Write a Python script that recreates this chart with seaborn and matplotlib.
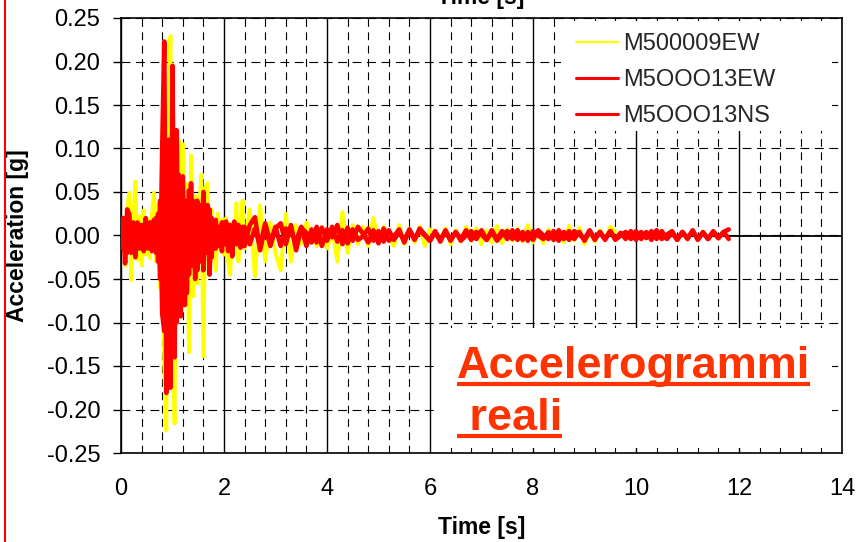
import numpy as np
import pandas as pd
import matplotlib
matplotlib.use("Agg")
import matplotlib.pyplot as plt
from matplotlib.lines import Line2D
from matplotlib.patches import Rectangle
from matplotlib.transforms import IdentityTransform
from matplotlib.ticker import MultipleLocator, FormatStrFormatter
import seaborn as sns

# ---------- data (acceleration in g) ----------
dt_early = 0.04       # s, sampling of the strong-motion part (0 - 2.4 s)
dt_late = 0.1         # s, sampling of the coda
t_late_start = 2.5

series_names = ["M500009EW", "M5OOO13EW", "M5OOO13NS"]
series_colors = ["#FFFF00", "#FF0000", "#FF0000"]

yellow_early = [
    0.000, 0.018, -0.035, 0.030, 0.049, -0.051, 0.020, 0.062, -0.028, 0.022,
    -0.034, 0.029, -0.022, 0.018, -0.026, 0.024, 0.049, -0.030, 0.035, -0.060,
    0.090, -0.150, -0.224, 0.160, 0.229, -0.120, -0.216, 0.080, 0.110, -0.090,
    0.105, -0.060, 0.060, -0.134, 0.092, -0.070, 0.045, -0.055, 0.030, 0.070,
    -0.139, 0.055, 0.060, -0.040, 0.030, -0.020, -0.040, 0.025, -0.015, 0.018,
    -0.022, 0.020, -0.030, -0.045, 0.015, -0.010, 0.037, -0.030, 0.012, 0.040,
    -0.015,
]
yellow_late = [
    0.030, -0.047, 0.035, -0.030, 0.015, -0.020, -0.040, 0.025, -0.030, 0.012,
    -0.010, 0.015, 0.002, -0.012, 0.010, -0.015, 0.008, -0.030, 0.027, -0.020,
    0.012, -0.010, 0.010, -0.012, 0.020, -0.008, 0.010, -0.002, -0.012, 0.012,
    -0.010, 0.008, -0.008, 0.010, -0.012, 0.007, 0.001, -0.006, 0.008, -0.010,
    0.006, -0.007, 0.010, -0.006, 0.008, -0.010, 0.006, -0.008, 0.011, -0.009,
    0.007, -0.006, 0.008, -0.007, 0.012, -0.008, 0.006, -0.009, 0.007, -0.006,
    0.006, -0.008, 0.011, -0.006, 0.009, -0.010, 0.005, -0.007, 0.006, -0.005,
    0.010, 0.004,
]
ew_early = [
    0.000, 0.020, -0.032, 0.030, 0.025, -0.020, 0.010, -0.025, 0.015, -0.015,
    0.012, -0.018, 0.020, -0.012, 0.015, -0.010, 0.018, -0.020, 0.025, -0.050,
    0.100, 0.223, -0.181, 0.110, -0.175, 0.195, -0.140, 0.121, -0.080, -0.093,
    0.068, -0.045, -0.066, 0.052, -0.030, 0.040, -0.050, 0.040, -0.025, 0.035,
    -0.040, 0.025, -0.020, 0.030, -0.025, 0.012, -0.015, 0.010, -0.012, 0.015,
    -0.010, 0.016, -0.018, 0.012, -0.024, 0.016, -0.010, 0.012, -0.014, 0.010,
    -0.012,
]
ew_late = [
    0.012, 0.021, -0.017, 0.010, -0.012, 0.008, 0.014, -0.010, 0.012, -0.017,
    0.009, 0.003, -0.008, 0.010, -0.012, 0.007, -0.002, 0.012, -0.010, 0.009,
    -0.006, 0.010, 0.002, -0.008, 0.006, -0.009, 0.008, -0.006, -0.001, 0.007,
    -0.008, 0.006, -0.005, 0.008, 0.001, -0.006, 0.005, -0.007, 0.006, -0.005,
    0.004, -0.006, 0.000, 0.005, -0.004, 0.006, -0.005, 0.004, -0.006, 0.001,
    0.005, -0.004, 0.006, -0.005, 0.004, -0.005, 0.006, 0.000, -0.004, 0.005,
    -0.006, 0.004, -0.005, 0.005, 0.001, -0.004, 0.006, -0.005, 0.004, -0.004,
    0.005, -0.005, 0.000, 0.004, -0.004, 0.005, -0.004, 0.004, -0.005, 0.006,
    -0.004, 0.001, 0.005, -0.005, 0.004, -0.004, 0.006, -0.005, 0.004, -0.004,
    0.005, -0.003, 0.004, -0.004,
]
ns_early = [
    0.000, -0.015, 0.018, -0.020, 0.012, -0.010, 0.015, -0.012, 0.010, -0.008,
    0.012, -0.010, 0.008, -0.015, 0.012, -0.018, 0.010, 0.020, -0.030, 0.040,
    -0.090, -0.110, 0.100, -0.160, 0.085, -0.120, 0.090, -0.100, 0.070, -0.060,
    0.045, -0.080, 0.040, -0.045, 0.060, -0.035, 0.030, -0.040, 0.025, -0.030,
    0.050, -0.020, 0.035, -0.045, 0.020, -0.015, 0.018, -0.012, 0.010, -0.018,
    0.015, -0.010, 0.012, -0.014, 0.010, -0.008, 0.012, -0.010, 0.008, -0.012,
    0.010,
]
ns_late = [
    -0.010, 0.008, -0.012, 0.014, -0.008, 0.010, -0.012, 0.008, 0.002, -0.006,
    0.010, -0.012, 0.007, -0.008, 0.009, -0.006, 0.010, -0.007, 0.006, -0.009,
    0.007, -0.005, -0.001, 0.008, -0.006, 0.005, -0.007, 0.006, -0.005, 0.004,
    -0.006, 0.007, -0.004, 0.005, 0.000, -0.006, 0.004, -0.005, 0.005, -0.006,
    0.004, -0.004, 0.006, -0.005, 0.004, 0.001, -0.005, 0.006, -0.004, 0.005,
    -0.004, 0.006, -0.005, 0.004, -0.006, 0.005, 0.000, -0.004, 0.004, -0.005,
    0.006, -0.004, 0.005, -0.004, 0.004, -0.006, 0.005, -0.003, 0.004, -0.005,
    0.005, -0.004, 0.003, -0.004, 0.005, -0.005, 0.004, -0.003, 0.005, -0.004,
    0.005, -0.004, 0.003, -0.005, 0.004, -0.003, 0.005, -0.004, 0.003, -0.004,
    0.004, -0.003, 0.004, 0.007,
]

x_ticks = [0, 2, 4, 6, 8, 10, 12, 14]
text_color = "#FF3300"


# ---------- helpers ----------
def record(name, early, late):
    t = np.concatenate([
        np.arange(len(early)) * dt_early,
        t_late_start + np.arange(len(late)) * dt_late,
    ])
    return pd.DataFrame({"time": t, "acc": early + late, "record": name})


df = pd.concat([
    record(series_names[0], yellow_early, yellow_late),
    record(series_names[1], ew_early, ew_late),
    record(series_names[2], ns_early, ns_late),
], ignore_index=True)

# ---------- style ----------
sns.set_theme(style="white")
plt.rcParams["font.family"] = ["Liberation Sans", "DejaVu Sans"]
plt.rcParams["axes.unicode_minus"] = False

W, H = 867, 542
fig = plt.figure(figsize=(W / 100, H / 100), dpi=100)
ax = fig.add_axes([121 / W, 1 - 453 / H, 721 / W, 435 / H])

# ---------- curves ----------
widths = [2.8, 3.3, 3.3]
for name, col, lw in zip(series_names, series_colors, widths):
    sns.lineplot(
        data=df[df["record"] == name], x="time", y="acc",
        color=col, linewidth=lw, label=name, ax=ax,
        estimator=None, sort=False, zorder=3,
    )

ax.axhline(0, color="black", linewidth=1.3, zorder=1.5)

# ---------- axes ----------
ax.set_xlim(0, 14)
ax.set_ylim(-0.25, 0.25)
ax.xaxis.set_major_locator(MultipleLocator(2))
ax.xaxis.set_minor_locator(MultipleLocator(0.4))
ax.yaxis.set_major_locator(MultipleLocator(0.05))
ax.yaxis.set_major_formatter(FormatStrFormatter("%.2f"))
ax.set_xticks(x_ticks)

ax.set_axisbelow(True)
ax.grid(which="major", axis="x", color="black", linestyle="-", linewidth=1.0)
ax.grid(which="minor", axis="x", color="black", linestyle=(0, (7, 5)), linewidth=0.8)
ax.grid(which="major", axis="y", color="black", linestyle=(0, (8, 5)), linewidth=0.8)

for sp in ax.spines.values():
    sp.set_visible(True)
    sp.set_color("black")
    sp.set_linewidth(1.2)

ax.tick_params(axis="x", which="both", length=0, pad=18, labelsize=17, colors="black")
ax.tick_params(axis="y", which="major", length=6, width=1, direction="out",
               left=True, pad=9, labelsize=17, colors="black")
ax.tick_params(axis="y", which="minor", length=0)

ax.set_xlabel("Time [s]", fontsize=16.5, fontweight="bold", color="black")
ax.set_ylabel("Acceleration [g]", fontsize=16.5, fontweight="bold", color="black")
ax.xaxis.set_label_coords(0.5, -0.145)
ax.yaxis.set_label_coords(-0.128, 0.5)

# white patches hiding the grid behind legend and caption
ax.add_patch(Rectangle((0.61, 0.74), 0.376, 0.253, transform=ax.transAxes,
                       facecolor="white", edgecolor="none", zorder=1))
ax.add_patch(Rectangle((0.437, 0.0115), 0.549, 0.276, transform=ax.transAxes,
                       facecolor="white", edgecolor="none", zorder=1))

# ---------- legend ----------
leg = ax.legend(loc="upper left", bbox_to_anchor=(0.631, 0.9655), frameon=False,
                fontsize=17, handlelength=1.8, handletextpad=0.2,
                labelspacing=0.6, borderpad=0, borderaxespad=0)
for line, lw in zip(leg.get_lines(), [1.6, 2.2, 2.2]):
    line.set_linewidth(lw)

# ---------- caption ----------
cap_x = 0.466
cap_rows = [("Accelerogrammi", 0.1724), (" reali", 0.0529)]
cap_texts = []
for s, yb in cap_rows:
    cap_texts.append(ax.text(cap_x, yb, s, transform=ax.transAxes, ha="left",
                             va="baseline", fontsize=32.5, fontweight="bold",
                             color=text_color, zorder=4))

# top (cut-off) axis title and slide border
fig.text(481 / W, 1 - 4 / H, "Time [s]", ha="center", va="baseline",
         fontsize=16.5, fontweight="bold", color="black")
fig.add_artist(Line2D([5 / W, 5 / W], [0, 1], transform=fig.transFigure,
                      color="red", linewidth=1.5))

# underline the caption lines
fig.canvas.draw()
renderer = fig.canvas.get_renderer()
for txt, (s, yb) in zip(cap_texts, cap_rows):
    bb = txt.get_window_extent(renderer)
    x0, ybase = ax.transAxes.transform((cap_x, yb))
    fig.add_artist(Line2D([x0, bb.x1], [ybase - 6, ybase - 6],
                          transform=IdentityTransform(), color=text_color,
                          linewidth=3.0, solid_capstyle="butt"))

fig.savefig("out.png", dpi=100)
plt.close(fig)
